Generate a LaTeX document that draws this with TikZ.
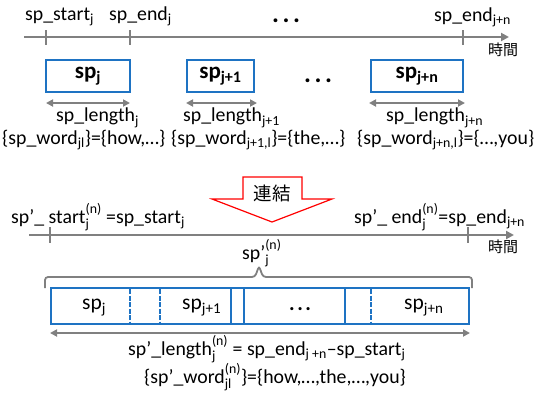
\documentclass[tikz,border=0pt]{standalone}
\usepackage{fontspec}
\setmainfont{Carlito}
\newfontfamily\jp{Noto Sans CJK JP}
\usepackage{amsmath}
\usetikzlibrary{arrows.meta}
\definecolor{sblue}{RGB}{30,115,195}
\definecolor{lgray}{RGB}{128,128,128}
\newcommand\T[1]{\text{#1}}
\newcommand\dotsrow[1]{.\hspace{#1}.\hspace{#1}.}
\begin{document}
\begin{tikzpicture}[x=1pt,y=-1pt,
  tl/.style={draw=lgray, line width=2.2pt, -{Triangle[length=8pt,width=8pt]}},
  tickmark/.style={draw=lgray, line width=2pt},
  len/.style={draw=lgray, line width=2pt, {Triangle[length=7pt,width=7pt]}-{Triangle[length=7pt,width=7pt]}},
  spbox/.style={draw=sblue, line width=2.6pt, fill=white, inner sep=0pt},
  lbl/.style={font=\fontsize{19.8}{22}\selectfont, inner sep=0pt, anchor=base west},
  boxlbl/.style={font=\fontsize{23}{25}\selectfont\bfseries, inner sep=0pt},
  inlbl/.style={font=\fontsize{21.5}{23}\selectfont, inner sep=0pt, anchor=base west},
  dotlbl/.style={font=\fontsize{26}{26}\selectfont\bfseries, inner sep=0pt, anchor=base west},
  jplbl/.style={font=\jp\fontsize{15}{16}\selectfont, inner sep=0pt},
  divsolid/.style={draw=sblue, line width=1.8pt},
  divdash/.style={draw=sblue, line width=1.8pt, dash pattern=on 5pt off 1.5pt},
  redarrow/.style={draw=red, line width=1.2pt, fill=white, line join=miter}
]
\useasboundingbox (0,0) rectangle (540,394);

% ---------- top timeline ----------
\coordinate (t1a) at (24,37);
\coordinate (t1b) at (509,37);
\draw[tl] (t1a) -- (t1b);
\foreach \n/\x in {s1/46, e1/130, en/463}{
  \coordinate (\n top) at (\x,30);
  \coordinate (\n bot) at (\x,45);
  \draw[tickmark] (\n top) -- (\n bot);
}
\node[lbl] (lstart) at (25,20) {$\T{sp\_start}_{\T{j}}$};
\node[lbl] (lend) at (109,20) {$\T{sp\_end}_{\T{j}}$};
\node[dotlbl] (tdots) at (272,22) {\dotsrow{3.5pt}};
\node[lbl] (lendn) at (434,21) {$\T{sp\_end}_{\T{j+n}}$};
\node[jplbl] (time1) at (503,50) {時間};

% ---------- top boxes ----------
\node[spbox, minimum width=84pt, minimum height=32pt, boxlbl] (b1) at (88,76) {$\T{sp}_{\T{j}}$};
\node[spbox, minimum width=67pt, minimum height=32pt, boxlbl] (b2) at (220.5,76) {$\T{sp}_{\T{j+1}}$};
\node[dotlbl] (mdots) at (304,82) {\dotsrow{3.5pt}};
\node[spbox, minimum width=92pt, minimum height=32pt, boxlbl] (b3) at (417,76) {$\T{sp}_{\T{j+n}}$};

\coordinate (a1l) at (46,103); \coordinate (a1r) at (130,103);
\coordinate (a2l) at (186,103); \coordinate (a2r) at (257,103);
\coordinate (a3l) at (369,103); \coordinate (a3r) at (465,103);
\draw[len] (a1l) -- (a1r);
\draw[len] (a2l) -- (a2r);
\draw[len] (a3l) -- (a3r);

\node[lbl] (len1) at (56,121) {$\T{sp\_length}_{\T{j}}$};
\node[lbl] (len2) at (183,121) {$\T{sp\_length}_{\T{j+1}}$};
\node[lbl] (len3) at (386,121) {$\T{sp\_length}_{\T{j+n}}$};

\node[lbl] (w1) at (2,144) {$\T{\{sp\_word}_{\T{jl}}\T{\}=\{how,…\}}$};
\node[lbl] (w2) at (171,144) {$\T{\{sp\_word}_{\T{j+1,l}}\T{\}=\{the,…\}}$};
\node[lbl] (w3) at (357,144) {$\T{\{sp\_word}_{\T{j+n,l}}\T{\}=\{…,you\}}$};

% ---------- red block arrow ----------
\draw[redarrow] (243,177) -- (302,177) -- (302,199) -- (332,199) -- (272,222) -- (212,199) -- (243,199) -- cycle;
\node[font=\jp\fontsize{18.5}{20}\selectfont, inner sep=0pt] (join) at (272,193) {連結};

% ---------- bottom timeline ----------
\coordinate (t2a) at (29,235);
\coordinate (t2b) at (514,235);
\draw[tl] (t2a) -- (t2b);
\foreach \n/\x in {s2/50, e2/468}{
  \coordinate (\n top) at (\x,227);
  \coordinate (\n bot) at (\x,243);
  \draw[tickmark] (\n top) -- (\n bot);
}
\node[lbl] (pstart) at (11,223) {$\T{sp’\_ start}_{\T{j}}^{\T{(n)}}\T{ =sp\_start}_{\T{j}}$};
\node[lbl] (pend) at (354,223) {$\T{sp’\_ end}_{\T{j}}^{\T{(n)}}\T{=sp\_end}_{\T{j+n}}$};
\node[jplbl] (time2) at (503,247) {時間};

\node[lbl] (spn) at (242,259) {$\T{sp’}_{\T{j}}^{\T{(n)}}$};

% brace
\coordinate (brl) at (45,288);
\coordinate (brr) at (472,288);
\coordinate (brtip) at (259,266);
\draw[draw=lgray, line width=1.8pt, rounded corners=3pt]
  (brl) -- (45,277) -- (255,277) -- (brtip) -- (263,277) -- (472,277) -- (brr);

% ---------- concatenated box ----------
\node[spbox, minimum width=418pt, minimum height=36pt, fill=none] (big) at (260,306) {};
\foreach \x/\s in {130/divdash, 160/divdash, 231/divsolid, 244/divsolid, 345/divsolid, 371/divdash}{
  \draw[\s] (\x,289) -- (\x,323);
}
\node[inlbl] (c1) at (82,309) {$\T{sp}_{\T{j}}$};
\node[inlbl] (c2) at (182,309) {$\T{sp}_{\T{j+1}}$};
\node[inlbl, font=\fontsize{21}{22}\selectfont\bfseries] (c3) at (289,310) {\dotsrow{2.5pt}};
\node[inlbl] (c4) at (404,309) {$\T{sp}_{\T{j+n}}$};

\coordinate (bal) at (50,333);
\coordinate (bar) at (470,333);
\draw[len] (bal) -- (bar);

\node[lbl] (tot1) at (128,355) {$\T{sp’\_length}_{\T{j}}^{\T{(n)}}\T{ = sp\_end}_{\T{j +n}}\T{–sp\_start}_{\T{j}}$};
\node[lbl] (tot2) at (144,383) {$\T{\{sp’\_word}_{\T{jl}}^{\T{(n)}}\T{\}=\{how,…,the,…,you\}}$};
\end{tikzpicture}
\end{document}
